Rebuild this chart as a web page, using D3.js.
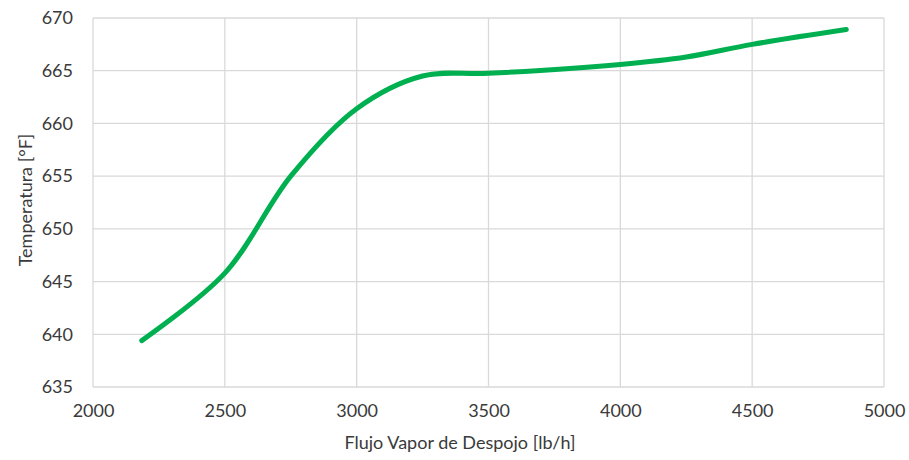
<!DOCTYPE html>
<html>
<head>
<meta charset="utf-8">
<script src="https://cdn.jsdelivr.net/npm/d3@7"></script>
<style>
  body { margin: 0; background: #fff; }
  text { font-family: Lato, "Open Sans", sans-serif; fill: #3a3a3a; }
</style>
</head>
<body>
<div id="chart"></div>
<script>
// steam flow [lb/h] vs temperature [F]
const flujo = [2185, 2500, 2750, 3000, 3250, 3500, 4000, 4250, 4500, 4857];
const temperatura = [639.4, 645.8, 655.0, 661.4, 664.5, 664.75, 665.6, 666.3, 667.5, 668.9];
const xTicks = [2000, 2500, 3000, 3500, 4000, 4500, 5000];
const yTicks = [635, 640, 645, 650, 655, 660, 665, 670];

const width = 909, height = 460;
const margin = {top: 18, right: 25, bottom: 73, left: 93};

let svg = d3.select('#chart').append('svg')
    .attr('width', width)
    .attr('height', height);

let x = d3.scaleLinear().domain([2000, 5000]).range([margin.left, width - margin.right]);
let y = d3.scaleLinear().domain([635, 670]).range([height - margin.bottom, margin.top]);

// grid
svg.append('g')
    .selectAll('line.v')
    .data(xTicks)
    .enter().append('line')
    .attr('x1', d => x(d)).attr('x2', d => x(d))
    .attr('y1', y(635)).attr('y2', y(670))
    .attr('stroke', '#d9d9d9').attr('stroke-width', 1.3);

svg.append('g')
    .selectAll('line.h')
    .data(yTicks)
    .enter().append('line')
    .attr('x1', x(2000)).attr('x2', x(5000))
    .attr('y1', d => y(d)).attr('y2', d => y(d))
    .attr('stroke', '#d9d9d9').attr('stroke-width', 1.3);

// axis labels
let xAxis = svg.append('g')
    .attr('transform', 'translate(0,' + y(635) + ')')
    .call(d3.axisBottom(x).tickValues(xTicks).tickSize(0).tickPadding(17).tickFormat(d3.format('d')));
xAxis.select('.domain').remove();
xAxis.selectAll('text').style('font-size', '18px');

let yAxis = svg.append('g')
    .attr('transform', 'translate(' + x(2000) + ',0)')
    .call(d3.axisLeft(y).tickValues(yTicks).tickSize(0).tickPadding(20).tickFormat(d3.format('d')));
yAxis.select('.domain').remove();
yAxis.selectAll('text').style('font-size', '18px');

svg.selectAll('.tick text').attr('fill', '#3a3a3a').style('font-family', 'Lato, "Open Sans", sans-serif');

let line = d3.line()
    .x((d, i) => x(flujo[i]))
    .y(d => y(d))
    .curve(d3.curveCatmullRom.alpha(0.5));

svg.append('path')
    .datum(temperatura)
    .attr('d', line)
    .attr('fill', 'none')
    .attr('stroke', '#00b050')
    .attr('stroke-width', 5)
    .attr('stroke-linecap', 'round');

svg.append('text')
    .attr('x', 460)
    .attr('y', 449)
    .attr('text-anchor', 'middle')
    .style('font-size', '18px')
    .text('Flujo Vapor de Despojo [lb/h]');

svg.append('text')
    .attr('transform', 'translate(32,200) rotate(-90)')
    .attr('text-anchor', 'middle')
    .style('font-size', '18px')
    .text('Temperatura [°F]');
</script>
</body>
</html>
